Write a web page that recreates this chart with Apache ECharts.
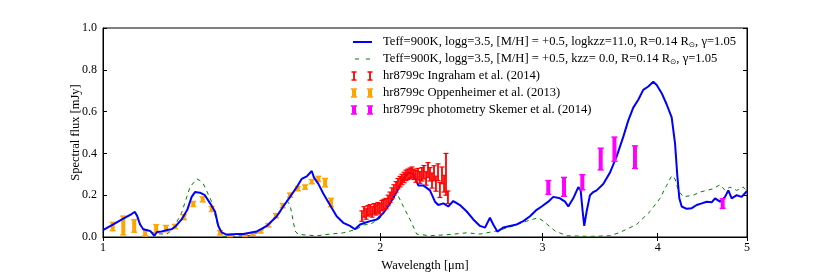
<!DOCTYPE html>
<html><head><meta charset="utf-8">
<script src="https://cdn.jsdelivr.net/npm/echarts@6/dist/echarts.min.js"></script>
<style>html,body{margin:0;padding:0;background:#fff}#c{width:830px;height:277px}</style>
</head><body><div id="c"></div>
<script>
const xTicks = [1, 2, 3, 4, 5];
const yTicks = [0, 0.2, 0.4, 0.6, 0.8, 1.0];

// Model with logkzz=11.0  [wavelength um, flux mJy]
const modelKzz = [
[1.000,0.033],[1.026,0.060],[1.052,0.088],[1.074,0.110],[1.083,0.120],[1.0895,0.099],[1.097,0.060],[1.106,0.037],
[1.125,0.029],[1.137,0.006],[1.1445,0.024],[1.158,0.026],[1.173,0.033],[1.187,0.037],[1.200,0.053],[1.217,0.084],
[1.2345,0.130],[1.248,0.192],[1.2585,0.215],[1.274,0.212],[1.290,0.200],[1.307,0.161],[1.323,0.122],[1.334,0.053],
[1.345,0.022],[1.362,0.011],[1.397,0.014],[1.420,0.014],[1.468,0.026],[1.5055,0.053],[1.544,0.099],[1.569,0.146],
[1.596,0.192],[1.623,0.239],[1.643,0.278],[1.664,0.290],[1.685,0.316],[1.694,0.285],[1.713,0.254],[1.734,0.208],
[1.7635,0.153],[1.793,0.099],[1.823,0.068],[1.854,0.053],[1.877,0.037],[1.901,0.060],[1.925,0.068],[1.949,0.076],
[1.982,0.084],[2.015,0.115],[2.049,0.161],[2.083,0.215],[2.118,0.278],[2.145,0.308],[2.1715,0.301],[2.199,0.247],
[2.2265,0.247],[2.264,0.223],[2.2925,0.169],[2.3115,0.153],[2.341,0.161],[2.370,0.146],[2.400,0.172],[2.440,0.153],
[2.482,0.122],[2.523,0.084],[2.5655,0.053],[2.598,0.045],[2.630,0.092],[2.652,0.060],[2.679,0.026],[2.719,0.045],
[2.765,0.053],[2.812,0.060],[2.859,0.076],[2.907,0.099],[2.956,0.130],[2.993,0.146],[3.043,0.169],[3.081,0.192],
[3.133,0.185],[3.173,0.169],[3.199,0.146],[3.239,0.185],[3.280,0.239],[3.2995,0.223],[3.316,0.122],[3.329,0.053],
[3.349,0.122],[3.377,0.200],[3.405,0.215],[3.434,0.223],[3.491,0.254],[3.550,0.308],[3.610,0.386],[3.670,0.479],
[3.716,0.557],[3.763,0.619],[3.8105,0.657],[3.858,0.704],[3.907,0.720],[3.956,0.743],[3.990,0.727],[4.040,0.688],
[4.091,0.634],[4.142,0.572],[4.177,0.448],[4.201,0.293],[4.222,0.185],[4.247,0.146],[4.3005,0.135],[4.355,0.138],
[4.409,0.153],[4.465,0.161],[4.521,0.169],[4.578,0.166],[4.616,0.185],[4.674,0.169],[4.733,0.192],[4.772,0.223],
[4.8125,0.185],[4.873,0.200],[4.934,0.192],[5.000,0.220]
];

// Model with kzz=0.0
const modelNoKzz = [
[1.000,0.035],[1.026,0.060],[1.052,0.088],[1.074,0.110],[1.083,0.120],[1.0895,0.100],[1.097,0.065],[1.106,0.040],
[1.125,0.025],[1.150,0.015],[1.173,0.014],[1.191,0.037],[1.217,0.115],[1.2305,0.180],[1.243,0.239],[1.264,0.278],
[1.274,0.270],[1.285,0.254],[1.312,0.169],[1.334,0.045],[1.350,0.003],[1.400,0.005],[1.450,0.008],[1.470,0.020],
[1.5055,0.050],[1.544,0.097],[1.569,0.140],[1.583,0.175],[1.596,0.153],[1.608,0.080],[1.616,0.029],[1.629,0.012],
[1.636,0.012],[1.706,0.006],[1.7635,0.014],[1.823,0.020],[1.885,0.037],[1.9165,0.058],[1.949,0.060],[1.998,0.090],
[2.040,0.146],[2.074,0.192],[2.092,0.195],[2.118,0.146],[2.154,0.084],[2.190,0.014],[2.264,0.006],[2.380,0.012],
[2.482,0.020],[2.565,0.014],[2.675,0.029],[2.788,0.053],[2.883,0.076],[2.968,0.092],[3.005,0.076],[3.094,0.029],
[3.186,0.006],[3.377,0.003],[3.550,0.006],[3.640,0.022],[3.795,0.060],[3.9235,0.122],[4.023,0.185],[4.091,0.247],
[4.142,0.293],[4.177,0.278],[4.211,0.223],[4.264,0.192],[4.372,0.200],[4.445,0.215],[4.521,0.223],[4.596,0.231],
[4.674,0.250],[4.733,0.223],[4.791,0.239],[4.873,0.223],[4.954,0.239],[5.000,0.215]
];

// Ingraham et al. (2014)  [wavelength, flux, error]
const ingraham = [
[1.910,0.100,0.025],[1.920,0.120,0.025],[1.930,0.110,0.025],[1.939,0.125,0.025],[1.949,0.130,0.025],[1.959,0.120,0.025],
[1.969,0.135,0.025],[1.978,0.130,0.025],[1.988,0.140,0.025],[1.998,0.135,0.025],[2.008,0.150,0.025],[2.018,0.155,0.025],
[2.0285,0.160,0.025],[2.039,0.175,0.025],[2.049,0.190,0.025],[2.059,0.210,0.025],[2.069,0.225,0.025],[2.080,0.240,0.025],
[2.090,0.255,0.025],[2.101,0.265,0.025],[2.111,0.275,0.025],[2.122,0.285,0.025],[2.132,0.295,0.025],[2.143,0.300,0.025],
[2.154,0.305,0.025],[2.1645,0.310,0.025],[2.175,0.300,0.025],[2.186,0.290,0.028],[2.197,0.300,0.028],[2.208,0.285,0.028],
[2.219,0.300,0.032],[2.230,0.310,0.032],[2.242,0.280,0.032],[2.253,0.320,0.036],[2.264,0.300,0.032],[2.2755,0.270,0.036],
[2.287,0.305,0.036],[2.298,0.255,0.036],[2.310,0.310,0.040],[2.321,0.225,0.036],[2.333,0.295,0.040],[2.345,0.255,0.040],
[2.3565,0.300,0.100],[2.368,0.190,0.030]
];

// Oppenheimer et al. (2013)
const oppenheimer = [
[1.0245,0.050,0.020],[1.052,0.055,0.045],[1.081,0.053,0.030],[1.111,0.020,0.015],[1.142,0.040,0.019],[1.1705,0.040,0.015],
[1.197,0.050,0.010],[1.224,0.095,0.012],[1.253,0.158,0.012],[1.283,0.180,0.012],[1.312,0.134,0.012],[1.340,0.020,0.010],
[1.3735,0.008,0.006],[1.426,0.009,0.006],[1.454,0.014,0.006],[1.483,0.026,0.007],[1.5115,0.056,0.008],[1.541,0.102,0.010],
[1.567,0.150,0.010],[1.596,0.200,0.010],[1.627,0.231,0.010],[1.657,0.239,0.010],[1.685,0.265,0.010],[1.713,0.278,0.012],
[1.742,0.260,0.020],[1.768,0.165,0.020]
];

// Skemer et al. (2014) photometry
const skemer = [
[3.043,0.237,0.033],[3.165,0.240,0.045],[3.313,0.262,0.036],[3.469,0.373,0.052],[3.590,0.420,0.058],[3.779,0.382,0.054],[4.705,0.160,0.023]
];

const FONT = 'Liberation Serif';
const legendLabels = [
  'Teff=900K, logg=3.5, [M/H] = +0.5, logkzz=11.0, R=0.14 R{s|⊙}, γ=1.05',
  'Teff=900K, logg=3.5, [M/H] = +0.5, kzz= 0.0, R=0.14 R{s|⊙}, γ=1.05',
  'hr8799c Ingraham et al. (2014)',
  'hr8799c Oppenheimer et al. (2013)',
  'hr8799c photometry Skemer et al. (2014)'
];

function errRender(color, w, cap, cw) {
  return function (params, api) {
    const x = api.value(0), y = api.value(1), e = api.value(2);
    const t = api.coord([x, y + e]);
    const b = api.coord([x, y - e]);
    const st = {stroke: color, lineWidth: w};
    const sc = {stroke: color, lineWidth: cw};
    return {type: 'group', children: [
      {type: 'line', shape: {x1: t[0], y1: t[1], x2: b[0], y2: b[1]}, style: st},
      {type: 'line', shape: {x1: t[0] - cap, y1: t[1], x2: t[0] + cap, y2: t[1]}, style: sc},
      {type: 'line', shape: {x1: b[0] - cap, y1: b[1], x2: b[0] + cap, y2: b[1]}, style: sc}
    ]};
  };
}

const axisFont = {fontFamily: FONT, fontSize: 12, color: '#000'};
const chart = echarts.init(document.getElementById('c'), null, {renderer: 'canvas'});

const gx = 353, gx2 = 372, tx = 383;
const rows = [42, 59, 76, 93, 110];
const legendGraphics = [];
legendGraphics.push({type: 'line', shape: {x1: gx, y1: rows[0], x2: gx2, y2: rows[0]}, style: {stroke: '#0000ff', lineWidth: 2}});
legendGraphics.push({type: 'line', shape: {x1: 355, y1: rows[1], x2: 359, y2: rows[1]}, style: {stroke: '#008000', lineWidth: 1}});
legendGraphics.push({type: 'line', shape: {x1: 366, y1: rows[1], x2: 370, y2: rows[1]}, style: {stroke: '#008000', lineWidth: 1}});
const icons = [['#ff0000', 1.8, 2.5, 1.5], ['#ffa500', 4, 3, 1.5], ['#ff00ff', 4, 3, 1.5]];
icons.forEach((ic, i) => {
  const y = rows[i + 2];
  [354, 370].forEach(x => {
    legendGraphics.push({type: 'line', shape: {x1: x, y1: y - 4, x2: x, y2: y + 4}, style: {stroke: ic[0], lineWidth: ic[1]}});
    legendGraphics.push({type: 'line', shape: {x1: x - ic[2], y1: y - 4, x2: x + ic[2], y2: y - 4}, style: {stroke: ic[0], lineWidth: ic[3]}});
    legendGraphics.push({type: 'line', shape: {x1: x - ic[2], y1: y + 4, x2: x + ic[2], y2: y + 4}, style: {stroke: ic[0], lineWidth: ic[3]}});
  });
});
legendLabels.forEach((t, i) => {
  legendGraphics.push({type: 'text', x: tx, y: rows[i], style: {text: t, fontFamily: FONT, fontSize: 12.6, fill: '#000', verticalAlign: 'middle',
    rich: {s: {fontFamily: 'DejaVu Sans', fontSize: 7.5, verticalAlign: 'bottom', padding: [7, 0, 0, 0]}}}});
});

chart.setOption({
  animation: false,
  backgroundColor: '#fff',
  grid: {left: 103, right: 83, top: 28, bottom: 34, show: true, borderColor: '#000', borderWidth: 1},
  xAxis: [
    {type: 'log', logBase: 10, min: 1, max: 5, position: 'bottom',
     name: 'Wavelength [μm]', nameLocation: 'middle', nameGap: 22, nameMoveOverlap: false, nameTextStyle: {...axisFont, fontSize: 12.5},
     axisLine: {show: true, lineStyle: {color: '#000', width: 1}},
     axisTick: {show: true, inside: true, length: 4, customValues: xTicks, lineStyle: {color: '#000'}},
     axisLabel: {show: true, customValues: xTicks, margin: 5, ...axisFont, formatter: v => String(Math.round(v))},
     minorTick: {show: false}, splitLine: {show: false}},
    {type: 'log', logBase: 10, min: 1, max: 5, position: 'top',
     axisLine: {show: true, lineStyle: {color: '#000', width: 1}},
     axisTick: {show: true, inside: true, length: 4, customValues: xTicks, lineStyle: {color: '#000'}},
     axisLabel: {show: false}, splitLine: {show: false}}
  ],
  yAxis: [
    {type: 'value', min: 0, max: 1, interval: 0.2, position: 'left',
     name: 'Spectral flux [mJy]', nameLocation: 'middle', nameGap: 21, nameMoveOverlap: false, nameTextStyle: {...axisFont, fontSize: 12.5},
     axisLine: {show: true, lineStyle: {color: '#000', width: 1}},
     axisTick: {show: true, inside: true, length: 4, lineStyle: {color: '#000'}},
     axisLabel: {margin: 6, ...axisFont, formatter: v => v.toFixed(1)},
     splitLine: {show: false}},
    {type: 'value', min: 0, max: 1, interval: 0.2, position: 'right',
     axisLine: {show: true, lineStyle: {color: '#000', width: 1}},
     axisTick: {show: true, inside: true, length: 4, lineStyle: {color: '#000'}},
     axisLabel: {show: false}, splitLine: {show: false}}
  ],
  series: [
    {type: 'line', data: modelNoKzz, showSymbol: false, lineStyle: {color: '#008000', width: 1, type: [4, 4]}, z: 2},
    {type: 'custom', data: oppenheimer, renderItem: errRender('#ffa500', 4, 3, 1.5), encode: {x: 0, y: 1}, z: 3},
    {type: 'line', data: modelKzz, showSymbol: false, lineStyle: {color: '#0000ff', width: 2}, z: 4},
    {type: 'custom', data: ingraham, renderItem: errRender('#ff0000', 1.8, 2.5, 1.2), encode: {x: 0, y: 1}, z: 5},
    {type: 'custom', data: skemer, renderItem: errRender('#ff00ff', 4, 3, 1.5), encode: {x: 0, y: 1}, z: 6}
  ],
  graphic: legendGraphics
});
</script></body></html>
